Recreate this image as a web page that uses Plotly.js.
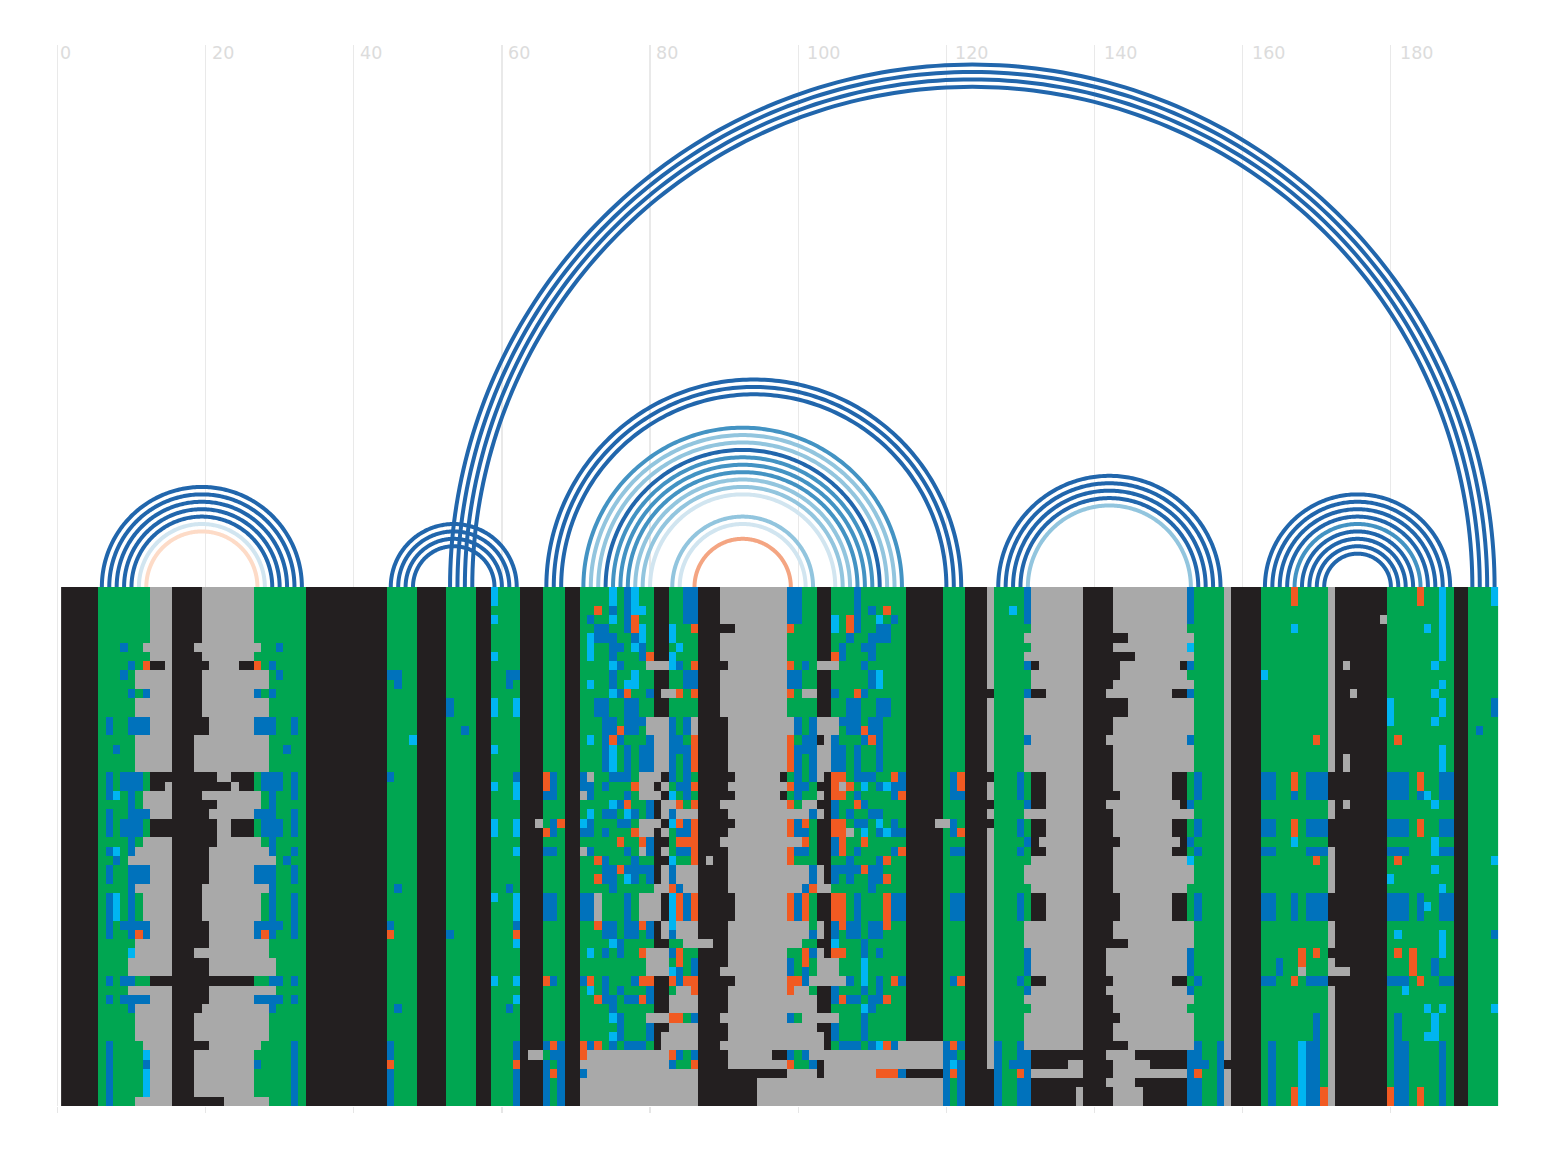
<!DOCTYPE html>
<html>
<head>
<meta charset="utf-8">
<script src="https://cdn.plot.ly/plotly-3.0.1.min.js"></script>
<style>html,body{margin:0;padding:0;background:#fff}</style>
</head>
<body>
<div id="chart" style="width:1552px;height:1156px"></div>
<script>
// ---- tick labels ----
const tickValues = [0,20,40,60,80,100,120,140,160,180];

// ---- cell categories ----
const cellCodes = ["K","A","G","B","C","O"];
const cellColors = ["#231f20","#a9a9a9","#00a651","#0072bc","#00b5f1","#f15a22"];

// ---- alignment rows: each token is "first column + category", run continues to next token ----
const alignmentRows = [
"1K 6G 13A 16K 20A 27G 34K 45G 49K 53G 57K 59C 60G 63K 66G 69K 71G 75C 76G 77B 78C 79G 81K 83G 85B 87K 90A 99B 101G 103K 105G 108B 109G 115K 120G 123K 126A 127G 131B 132A 139K 143A 153B 154G 158A 159K 163G 167O 168G 172A 173K 180G 184O 185G 187C 188G 189K 191G 194C",
"1K 6G 13A 16K 20A 27G 34K 45G 49K 53G 57K 59C 60G 63K 66G 69K 71G 75C 76G 77B 78C 79G 81K 83G 85B 87K 90A 99B 101G 103K 105G 108B 109G 115K 120G 123K 126A 127G 131B 132A 139K 143A 153B 154G 158A 159K 163G 167O 168G 172A 173K 180G 184O 185G 187C 188G 189K 191G 194C",
"1K 6G 13A 16K 20A 27G 34K 45G 49K 53G 57K 59G 63K 66G 69K 71G 73O 74G 75B 76G 77B 78C 80G 81K 83G 85B 87K 90A 99B 101G 103K 105G 108B 109G 110B 111G 112O 113G 115K 120G 123K 126A 127G 129C 130G 131B 132A 139K 143A 153B 154G 158A 159K 163G 172A 173K 180G 187C 188G 189K 191G",
"1K 6G 13A 16K 20A 27G 34K 45G 49K 53G 57K 59C 60G 63K 66G 69K 71G 72B 73G 75C 76G 77B 78O 79G 81K 83G 85B 87K 90A 99B 101G 103K 105C 106G 107O 108B 109G 111C 112G 113B 114G 115K 120G 123K 126A 127G 131B 132A 139K 143A 153B 154G 158A 159K 163G 172A 173K 179A 180G 187C 188G 189K 191G",
"1K 6G 13A 16K 20A 27G 34K 45G 49K 53G 57K 59G 63K 66G 69K 71G 73B 75G 77B 78O 79C 80G 81K 83C 84G 86O 87K 92A 99O 100G 103K 105C 106G 107O 108B 109G 111B 113G 115K 120G 123K 126A 127G 132A 139K 143A 153G 158A 159K 163G 167C 168G 172A 173K 180G 185C 186G 187C 188G 189K 191G",
"1K 6G 13A 16K 20A 27G 34K 45G 49K 53G 57K 59G 63K 66G 69K 71G 72C 73B 76G 78B 79C 80G 81K 83C 84G 87K 90A 99G 103K 105G 107B 108G 110B 113G 115K 120G 123K 126A 127G 131A 139K 145A 154G 158A 159K 163G 172A 173K 180G 187C 188G 189K 191G",
"1K 6G 9B 10G 12A 16K 19A 28G 30B 31G 34K 45G 49K 53G 57K 59G 63K 66G 69K 71G 72C 73G 75B 77G 78C 79B 80G 81K 83G 84C 85G 87K 90A 99G 103K 105G 106B 107G 109B 111G 115K 120G 123K 126A 127G 132A 139K 143A 153C 154G 158A 159K 163G 172A 173K 180G 187C 188G 189K 191G",
"1K 6G 13A 16K 20A 27G 34K 45G 49K 53G 57K 59C 60G 63K 66G 69K 71G 72C 73G 75B 76G 79B 80O 81K 83C 84G 87K 90A 99G 103K 105O 106B 107G 110B 111G 115K 120G 123K 126A 127G 131A 139K 146A 154G 158A 159K 163G 172A 173K 180G 187C 188G 189K 191G",
"1K 6G 10B 11G 12O 13K 15A 16K 21A 25K 27O 28G 29B 30G 34K 45G 49K 53G 57K 59G 63K 66G 69K 71G 75C 76B 77G 80A 83C 84B 85G 86O 87K 91A 99O 100G 101B 102G 103A 106G 109B 110G 115K 120G 123K 126A 127G 131B 132K 133A 139K 144A 152K 153B 154G 158A 159K 163G 172A 173K 174A 175K 180G 186C 187G 189K 191G",
"1K 6G 9B 10G 11A 16K 20A 29G 30B 31G 34K 45B 47G 49K 53G 57K 59G 61B 63K 66G 69K 71G 75B 76G 78C 79G 81K 83G 85B 87K 90A 99B 101G 103K 105G 110B 111C 112G 115K 120G 123K 126A 127G 132A 139K 144A 153G 158A 159K 163C 164G 172A 173K 180G 189K 191G",
"1K 6G 11A 16K 20A 29G 34K 45G 46B 47G 49K 53G 57K 59G 61B 62G 63K 66G 69K 71G 72C 73G 75B 76G 77C 79G 81K 83G 85B 87K 90A 99B 101G 103K 105G 110B 111C 112G 115K 120G 123K 126A 127G 132A 139K 143A 154G 158A 159K 163G 172A 173K 180G 187C 188G 189K 191G",
"1K 6G 10B 11G 12B 13A 16K 20A 27B 28G 29B 30G 34K 45G 49K 53G 57K 59G 63K 66G 69K 71G 75C 76B 77O 78G 80B 81K 82A 84O 85G 86O 87K 90A 99O 100G 101A 103K 105B 106G 108O 109B 110G 115K 120G 123K 127G 131B 132K 134A 139K 142A 151K 153B 154G 158A 159K 163G 172A 173K 175A 176K 180G 186C 187G 189K 191G",
"1K 6G 11A 16K 20A 29G 34K 45G 49K 53B 54G 57K 59C 60G 62C 63K 66G 69K 71G 73B 75G 77B 79G 81K 83G 87K 90A 99G 103K 105G 107B 109G 111B 113G 115K 120G 123K 126A 127G 131A 139K 145A 154G 158A 159K 163G 172A 173K 180C 181G 187C 188G 189K 191G 194B",
"1K 6G 11A 16K 20A 29G 34K 45G 49K 53B 54G 57K 59C 60G 62C 63K 66G 69K 71G 73B 75G 77B 79G 81K 83G 87K 90A 99G 103K 105G 107B 109G 111B 113G 115K 120G 123K 126A 127G 131A 139K 145A 154G 158A 159K 163G 172A 173K 180C 181G 187C 188G 189K 191G 194B",
"1K 6G 7B 8G 10B 13A 16K 21A 27B 30G 32B 33G 34K 45G 49K 53G 57K 59G 63K 66G 69K 71G 74B 76G 77B 80A 83B 84G 85B 86A 87K 91A 100B 101G 102B 103A 106B 109G 110B 112G 115K 120G 123K 126A 127G 131A 139K 143A 154G 158A 159K 163G 172A 173K 180C 181G 186C 187G 189K 191G",
"1K 6G 7B 8G 10B 13A 16K 21A 27B 30G 32B 33G 34K 45G 49K 53G 55B 56G 57K 59G 63K 66G 69K 71G 74B 76O 77B 79G 80A 83B 84G 85B 86A 87K 91A 100B 101G 102B 103A 106G 107B 109O 110B 112G 115K 120G 123K 126A 127G 131A 139K 143A 154G 158A 159K 163G 172A 173K 180G 189K 191G 192B 193G",
"1K 6G 11A 16K 19A 29G 34K 45G 48C 49K 53G 57K 59G 63K 66G 69K 71G 72C 73G 74B 75O 76B 77G 80B 81A 83B 85G 86O 87K 91A 99O 100G 101B 103K 104A 105B 106G 109B 110O 111B 112G 115K 120G 123K 126A 127G 131B 132A 139K 142A 153B 154G 158A 159K 163G 170O 171G 172A 173K 180G 181O 182G 189K 191G",
"1K 6G 8B 9G 11A 16K 19A 29G 31B 32G 34K 45G 49K 53G 57K 59C 60G 63K 66G 69K 71G 74B 75C 76G 77B 78G 79B 81A 83B 86O 87K 91A 99O 100B 103A 105B 107G 108B 109G 111B 112G 115K 120G 123K 126A 127G 131A 139K 143A 154G 158A 159K 163G 172A 173K 180G 187C 188G 189K 191G",
"1K 6G 11A 16K 19A 29G 34K 45G 49K 53G 57K 59G 63K 66G 69K 71G 74B 75C 76G 77B 78G 79B 81A 83B 84G 85B 86O 87K 91A 99O 100B 101G 102B 103A 105B 107G 108B 109G 111B 112G 115K 120G 123K 126A 127G 131A 139K 143A 154G 158A 159K 163G 172A 173K 174A 175K 180G 187C 188G 189K 191G",
"1K 6G 11A 16K 19A 29G 34K 45G 49K 53G 57K 59G 63K 66G 69K 71G 74B 75C 76G 77B 78G 79B 81A 83B 84G 85B 86O 87K 91A 99O 100B 101G 102B 103A 105B 107G 108B 109G 111B 112G 115K 120G 123K 126A 127G 131A 139K 143A 154G 158A 159K 163G 172A 173K 174A 175K 180G 187C 188G 189K 191G",
"1K 6G 7B 8G 9B 12G 13K 22A 24K 27G 28B 31G 32B 33G 34K 45B 46G 49K 53G 57K 59G 62B 63K 66O 67B 68G 69K 71B 72A 73G 75B 78G 79A 82K 83B 84G 85B 86G 87K 92A 98K 99G 100B 101G 102B 103A 104K 105O 107G 108B 111G 113O 114B 115K 120G 121B 122O 123K 127G 130B 131G 132K 134A 139K 143A 151K 153G 154B 155G 158A 159K 163B 165G 167O 168G 169B 172K 180B 183G 184O 185G 187B 189K 191G",
"1K 6G 7B 8G 9B 12G 13K 15A 16K 24A 25K 27G 28B 31G 32B 33G 34K 45G 49K 53G 57K 59C 60G 62C 63K 66O 67B 68G 69K 71B 73G 74B 75G 78O 79A 81K 82A 83G 84B 86O 87K 91A 98A 99O 100B 102G 103K 105O 106A 107O 108G 109C 110G 111B 112C 113B 115K 120G 121B 122O 123K 126A 127G 130B 131G 132K 134A 139K 143A 151K 153G 154B 155G 158A 159K 163B 165G 167O 168G 169B 172K 180B 183G 184O 185G 187B 189K 191G",
"1K 6G 7B 8C 9G 10B 11G 12A 16K 20A 28G 29B 30G 32B 33G 34K 45G 49K 53G 57K 59G 62C 63K 66B 68G 69K 71A 72B 73G 77B 78G 79A 82K 83C 84G 85B 86G 87K 92A 98K 99G 100B 101G 103A 104K 105O 107G 108B 109G 113B 114O 115K 120G 121B 123K 126A 127G 130B 131G 132K 134A 139K 144A 151K 153G 154B 155G 158A 159K 163B 165G 167B 168G 169B 172K 180B 183G 184B 185C 186G 187B 189K 191G",
"1K 6G 10B 11G 12A 16K 22A 28G 29B 30G 34K 45G 49K 53G 57K 59G 63K 66G 69K 71G 75C 76B 77O 78G 80B 81K 82A 84O 85G 86O 87K 90A 98A 99O 100G 101A 103K 105B 106G 108O 109B 110G 115K 120G 123K 127G 131B 132K 134A 139K 142A 152K 153B 154G 158A 159K 163G 172A 173K 174A 175K 180G 186C 187G 189K 191G",
"1K 6G 7B 8G 10B 13A 16K 21A 27B 30G 32B 33G 34K 45G 49K 53G 57K 59G 63K 66G 69K 71G 72C 73G 74B 76G 77C 78B 79G 80B 81K 82A 83B 84A 87K 91A 102B 103A 104K 105B 106G 107B 108G 110B 112G 115K 120G 123K 126A 127G 131A 139K 143A 154G 158A 159K 163G 172A 173K 180G 189K 191G",
"1K 6G 7B 8G 9B 12G 13K 22A 24K 27G 28B 31G 32B 33G 34K 45G 49K 53G 57K 59C 60G 62C 63K 65A 66G 67B 68O 69K 71C 72B 73G 76B 78G 79A 82K 83C 84O 85B 86O 87K 92A 98A 99O 100B 101O 102G 103K 105O 107G 108B 110G 111C 112G 113B 114G 115K 119A 121B 122G 123K 127G 130B 131G 132K 134A 139K 143A 151K 153G 154B 155G 158A 159K 163B 165G 167O 168G 169B 172K 180B 183G 184O 185G 187B 189K 191G",
"1K 6G 7B 8G 9B 12G 13K 22A 24K 27G 28B 31G 32B 33G 34K 45G 49K 53G 57K 59C 60G 62C 63K 66O 67B 68G 69K 71B 73G 74B 75G 78O 79A 81K 82A 83G 84B 86O 87K 91A 98A 99O 100B 102G 103K 105O 107A 108G 109C 110G 111B 112C 113B 115K 120G 121B 122O 123K 126A 127G 130B 131G 132K 134A 139K 143A 151K 153G 154B 155G 158A 159K 163B 165G 167O 168G 169B 172K 180B 183G 184O 185G 187B 189K 191G",
"1K 6G 10B 11G 12A 16K 22A 28G 29B 30G 34K 45G 49K 53G 57K 59G 63K 66G 69K 71G 76O 77G 79O 80B 81K 83G 84O 87K 90A 101O 102G 103K 105B 106O 107G 109O 110G 115K 120G 123K 126A 127G 131B 132K 133A 139K 144A 152K 153B 154G 158A 159K 163G 167C 168G 172K 180G 186C 187G 189K 191G",
"1K 6G 7B 8C 9G 10B 11A 16K 21A 29B 30G 32B 33G 34K 45G 49K 53G 57K 59G 62C 63K 66B 68G 69K 71A 72B 73G 77B 78G 79A 80B 81K 82A 83G 84B 86O 87K 91A 98A 99O 100B 102G 103K 105B 106O 107G 108B 109G 113B 114O 115K 120G 121B 123K 126A 127G 130B 131G 132K 134A 139K 143A 151K 153G 154B 155G 158A 159K 163B 165G 169B 172A 173K 180B 183G 186C 187B 189K 191G",
"1K 6G 8B 9G 10A 16K 21A 30G 31B 32G 34K 45G 49K 53G 57K 59G 63K 66G 69K 71G 73O 74B 75G 78B 79G 81K 83C 84G 86O 87K 88A 89K 91A 98A 99O 100G 103K 105G 107B 108G 111B 112O 113G 115K 120G 123K 126A 127G 132A 139K 143A 153C 154G 158A 159K 163G 170O 171G 172A 173K 180G 181O 182G 189K 191G 194C",
"1K 6G 7B 8G 10B 13A 16K 21A 27B 30G 32B 33G 34K 45G 49K 53G 57K 59G 63K 66G 69K 71G 74B 76O 77B 81K 82A 83B 84A 87K 91A 102B 103A 104K 105B 109O 110B 112G 115K 120G 123K 126A 127G 131A 139K 143A 154G 158A 159K 163G 172A 173K 180G 186C 187G 189K 191G",
"1K 6G 7B 8G 10B 13A 16K 21A 27B 30G 32B 33G 34K 45G 49K 53G 57K 59G 63K 66G 69K 71G 73O 74B 76G 77C 78B 79G 80B 81K 82A 83B 84A 87K 91A 102B 103A 104K 105B 106G 107B 108G 110B 112O 113G 115K 120G 123K 126A 127G 131A 139K 143A 154G 158A 159K 163G 172A 173K 180C 181G 189K 191G",
"1K 6G 10B 11A 16K 20A 29B 30G 34K 45G 46B 47G 49K 53G 57K 59G 61B 62G 63K 66G 69K 71G 75B 76G 81A 83O 84B 85A 87K 91A 101B 102O 103A 105G 110B 111G 115K 120G 123K 126A 127G 132A 139K 143A 153G 158A 159K 163G 172A 173K 180G 187C 188G 189K 191G",
"1K 6G 7B 8C 9G 10B 11G 12A 16K 20A 28G 29B 30G 32B 33G 34K 45G 49K 53G 57K 59C 60G 62C 63K 66B 68G 69K 71B 73A 74G 77B 78G 79A 82K 83C 84O 85B 86O 87K 92A 98A 99O 100B 101O 102G 103K 105O 107G 108B 109G 112O 113B 115K 120G 121B 123K 126A 127G 130B 131G 132K 134A 139K 144A 151K 153G 154B 155G 158A 159K 163B 165G 167B 168G 169B 172K 180B 183G 184B 185G 187B 189K 191G",
"1K 6G 7B 8C 9G 10B 11G 12A 16K 20A 28G 29B 30G 32B 33G 34K 45G 49K 53G 57K 59G 62C 63K 66B 68G 69K 71B 73A 74G 77B 78G 79A 82K 83C 84O 85B 86O 87K 92A 98A 99O 100B 101O 102G 103K 105O 107G 108B 109G 112O 113B 115K 120G 121B 123K 126A 127G 130B 131G 132K 134A 139K 144A 151K 153G 154B 155G 158A 159K 163B 165G 167B 168G 169B 172K 180B 183G 184B 185C 186G 187B 189K 191G",
"1K 6G 7B 8C 9G 10B 11G 12A 16K 20A 28G 29B 30G 32B 33G 34K 45G 49K 53G 57K 59G 62C 63K 66B 68G 69K 71B 73A 74G 77B 78G 79A 82K 83C 84O 85B 86O 87K 92A 98A 99O 100B 101O 102G 103K 105O 107G 108B 109G 112O 113B 115K 120G 121B 123K 126A 127G 130B 131G 132K 134A 139K 144A 151K 153G 154B 155G 158A 159K 163B 165G 167B 168G 169B 172K 180B 183G 184B 185G 187B 189K 191G",
"1K 6G 7B 8G 9B 13A 16K 21A 27B 31G 32B 33G 34K 45B 46G 49K 53G 57K 59G 62B 63K 66G 69K 71G 73O 74B 76G 77B 79O 80B 81K 82A 83C 84A 87K 91A 102G 103A 104K 105B 106O 107B 109G 110B 112O 113G 115K 120G 123K 126A 127G 131A 139K 143A 154G 158A 159K 163G 172A 173K 180G 189K 191G",
"1K 6G 7B 8G 10B 11O 12B 13A 16K 21A 27B 28O 29B 30G 32B 33G 34K 45O 46G 49K 53B 54G 57K 59G 62O 63K 66G 69K 71G 74B 76G 77B 79G 80B 81K 82A 83B 84A 87K 91A 102B 103A 104K 105B 106G 107B 109G 110B 112G 115K 120G 123K 126A 127G 131A 139K 143A 154G 158A 159K 163G 172A 173K 180G 181C 182G 187C 188G 189K 191G 194B",
"1K 6G 11A 16K 21A 29G 34K 45G 49K 53G 57K 59G 62C 63K 66G 69K 71G 75C 76B 77G 81K 83G 85A 89K 91A 101G 103K 105C 106G 109B 110G 115K 120G 123K 126A 127G 131A 139K 145A 154G 158A 159K 163G 172A 173K 180G 187C 188G 189K 191G",
"1K 6G 10C 11A 16K 19A 29G 34K 45G 49K 53G 57K 59G 63K 66G 69K 71G 72C 73G 74B 75G 76B 77G 79O 80A 83B 84O 85G 87K 91A 99G 101O 102B 103A 104K 105O 107G 109B 110G 111B 112G 115K 120G 123K 126A 127G 131B 132A 139K 142A 153B 154G 158A 159K 163G 168O 169G 170O 171G 172K 180G 181O 182G 183O 184G 187C 188G 189K 191G",
"1K 6G 10A 16K 21A 30G 34K 45G 49K 53G 57K 59G 63K 66G 69K 71G 80A 83G 84O 85G 86B 87K 91A 99B 100G 101O 102G 103A 106G 109C 110G 115K 120G 123K 126A 127G 131B 132A 139K 142A 153B 154G 158A 159K 163G 165B 166G 168O 169G 172A 173K 180G 183O 184G 186B 187G 189K 191G",
"1K 6G 10A 16K 21A 30G 34K 45G 49K 53G 57K 59G 63K 66G 69K 71G 80A 83C 84B 85G 86B 87K 90A 99B 100G 101B 102G 103A 106G 109C 110G 115K 120G 123K 126A 127G 131B 132A 139K 142A 153B 154G 158A 159K 163G 165B 166G 168A 169G 172A 175K 180G 183O 184G 186B 187G 189K 191G",
"1K 6G 7B 8G 9B 11G 13K 27G 29B 31G 32B 33G 34K 45G 49K 53G 57K 59C 60G 62C 63K 66O 67B 68G 69K 71B 72O 73G 74B 75G 78B 79O 81K 83O 84B 85O 87K 92A 99O 101B 102A 107B 108G 109C 110G 111B 112G 113O 114B 115K 120G 121B 122O 123K 126A 127G 130B 131G 132K 134A 139K 143A 151K 153G 154B 155G 158A 159K 163B 165G 167O 168G 169B 172K 180B 183G 184O 185G 187B 189K 191G",
"1K 6G 10A 16K 21A 30G 34K 45G 49K 53G 57K 59G 63K 66G 69K 71G 72C 73G 74B 75G 76B 77G 80B 81K 83G 84A 86O 87K 91A 99O 100A 102G 103K 105B 106G 109B 110G 111B 112G 115K 120G 123K 126A 127G 131B 132A 139K 142A 153B 154G 158A 159K 163G 172A 173K 180G 182C 183G 189K 191G",
"1K 6G 7B 8G 9B 13A 16K 21A 27B 31G 32B 33G 34K 45G 49K 53G 57K 59G 62C 63K 66G 69K 71G 73O 74B 76G 77B 79O 80B 81K 83A 87K 91A 103K 105B 106O 107B 109G 110B 112O 113G 115K 120G 123K 126A 127G 131A 139K 143A 154G 158A 159K 163G 172A 173K 180G 189K 191G",
"1K 6G 10B 11A 16K 20A 29B 30G 34K 45G 46B 47G 49K 53G 57K 59G 61B 62G 63K 66G 69K 71G 75B 76G 81K 83A 87K 91A 103K 105G 109C 110B 111G 115K 120G 123K 126A 127G 132A 139K 143A 153G 158A 159K 163G 172A 173K 180G 185C 186G 187C 188G 189K 191G 194C",
"1K 6G 11A 16K 19A 29G 34K 45G 49K 53G 57K 59G 63K 66G 69K 71G 75C 76B 77G 80A 83O 85G 86B 87K 90A 99B 100G 101A 106G 109B 110G 115K 120G 123K 126A 127G 131A 139K 144A 154G 158A 159K 163G 170B 171G 172A 173K 180G 181B 182G 186C 187G 189K 191G",
"1K 6G 11A 16K 19A 29G 34K 45G 49K 53G 57K 59G 63K 66G 69K 71G 76B 77G 80B 81K 83A 87K 91A 103K 105B 106G 109B 110G 115K 120G 123K 126A 127G 131A 139K 143A 154G 158A 159K 163G 170B 171G 172A 173K 180G 181B 182G 186C 187G 189K 191G",
"1K 6G 11A 16K 19A 29G 34K 45G 49K 53G 57K 59G 63K 66G 69K 71G 75C 76B 77G 80B 81K 82A 87K 91A 104K 105B 106G 109B 110G 115K 120G 123K 126A 127G 131A 139K 143A 154G 158A 159K 163G 170B 171G 172A 173K 180G 181B 182G 185C 187G 189K 191G",
"1K 6G 7B 8G 12A 16K 21A 28G 32B 33G 34K 45B 46G 49K 53G 57K 59G 62B 63K 66B 67O 68B 69K 71O 72B 73O 74G 75B 76G 77B 80G 81K 82A 87K 90A 104K 105G 106B 109G 110B 111C 112O 113B 114A 120B 121O 122B 123K 126A 127B 128G 130B 131A 139K 145A 154B 155G 157B 158A 159K 163G 164B 165G 168C 169B 171G 172A 173K 180G 181B 183G 187B 188G 189K 191G",
"1K 6G 7B 8G 12C 13A 16K 19A 27G 32B 33G 34K 45B 46G 49K 53G 57K 59G 62B 63K 64A 66G 67B 69K 71O 72A 83O 84B 85G 86B 87K 91A 97K 99B 100G 101B 102A 120B 122G 123K 126A 127B 128G 130B 132K 142A 146K 153B 155G 157B 158A 159K 163G 164B 165G 168C 169B 171G 172A 173K 180G 181B 183G 187B 188G 189K 191G",
"1K 6G 7B 8G 12B 13A 16K 19A 27B 28G 32B 33G 34K 45O 46G 49K 53G 57K 59G 62O 63K 66B 67G 68B 69K 71A 83B 84G 86O 87K 91A 99O 100G 102B 103K 104A 120B 121C 122B 123K 126A 127B 128G 129B 132K 137A 139K 143A 148K 153B 156G 157B 158K 163G 164B 165G 168C 169B 171G 172A 173K 180G 181B 183G 187B 188G 189K 191G",
"1K 6G 7B 8G 12C 13A 16K 19A 27G 32B 33G 34K 45B 46G 49K 53G 57K 59G 62B 63K 66B 67O 68B 69K 71B 72A 87K 99A 103K 104A 111O 114B 115K 120B 121O 122B 123K 127B 128G 130O 131B 132A 139K 143A 153B 154O 155G 157B 158A 159K 163G 164B 165G 168C 169B 171G 172A 173K 180G 181B 183G 187B 188G 189K 191G",
"1K 6G 7B 8G 12C 13A 16K 19A 27G 32B 33G 34K 45B 46G 49K 53G 57K 59G 62B 63K 66B 67G 68B 69K 71A 87K 95A 120B 121G 122B 123K 127B 128G 130B 132K 142A 146K 153B 155G 157B 158A 159K 163G 164B 165G 168C 169B 171G 172A 173K 180G 181B 183G 187B 188G 189K 191G",
"1K 6G 7B 8G 12C 13A 16K 19A 27G 32B 33G 34K 45B 46G 49K 53G 57K 59G 62B 63K 66B 67G 68B 69K 71A 87K 95A 120B 121G 122B 123K 127B 128G 130B 132K 138A 139K 143A 147K 153B 155G 157B 158A 159K 163G 164B 165G 167O 168C 169B 171O 172A 173K 180O 181B 183G 184O 185G 187B 188G 189K 191G",
"1K 6G 7B 8G 11A 16K 23A 29G 32B 33G 34K 45B 46G 49K 53G 57K 59G 62B 63K 66B 67G 68B 69K 71A 87K 95A 120B 121G 122B 123K 127B 128G 130B 132K 138A 139K 143A 147K 153B 155G 157B 158A 159K 163G 164B 165G 167O 168C 169B 171O 172A 173K 180O 181B 183G 184O 185G 187B 188G 189K 191G"
];

// ---- base pairs: opening column, closing column, colour ----
const arcOpen = [6,7,8,9,10,11,12, 45,46,47,48, 53,54,55,56, 66,67,68,
  71,72,73,74,75,76,77,78,79,80, 83,84,86, 127,128,129,130,131,
  163,164,165,166,167,168,169,170,171];
const arcClose = [33,32,31,30,29,28,27, 62,61,60,59, 194,193,192,191, 122,121,120,
  114,113,112,111,110,109,108,107,106,105, 102,101,99, 157,156,155,154,153,
  188,187,186,185,184,183,182,181,180];
const arcColor = ["#2166ac","#2166ac","#2166ac","#2166ac","#2166ac","#d1e5f0","#fddbc7",
  "#2166ac","#2166ac","#2166ac","#2166ac",
  "#2166ac","#2166ac","#2166ac","#2166ac",
  "#2166ac","#2166ac","#2166ac",
  "#4393c3","#92c5de","#92c5de","#2166ac","#4393c3","#4393c3","#4393c3","#92c5de","#92c5de","#d1e5f0",
  "#92c5de","#d1e5f0","#f4a582",
  "#2166ac","#2166ac","#2166ac","#2166ac","#92c5de",
  "#2166ac","#2166ac","#2166ac","#2166ac","#4393c3","#2166ac","#2166ac","#2166ac","#2166ac"];

// ---- build heatmap ----
const colCount = 194;
const z = alignmentRows.map(function (row) {
  const cells = new Array(colCount).fill(0);
  const tokens = row.split(" ");
  tokens.forEach(function (t, i) {
    const start = parseInt(t, 10);
    const code = cellCodes.indexOf(t[t.length - 1]);
    const end = i + 1 < tokens.length ? parseInt(tokens[i + 1], 10) : colCount + 1;
    for (let c = start; c < end; c++) cells[c - 1] = code;
  });
  return cells;
});
const colscale = [];
cellColors.forEach(function (c, i) {
  colscale.push([i / cellColors.length, c]);
  colscale.push([(i + 1) / cellColors.length, c]);
});
const colIndex = Array.from({length: colCount}, function (_, i) { return i + 1; });
const rowIndex = alignmentRows.map(function (_, i) { return i + 1; });

const traces = [{
  type: "heatmap", x: colIndex, y: rowIndex, z: z, xaxis: "x", yaxis: "y2",
  zmin: 0, zmax: cellColors.length, colorscale: colscale, showscale: false,
  hoverinfo: "skip", xgap: 0, ygap: 0
}];

arcOpen.forEach(function (a, i) {
  const b = arcClose[i], c = (a + b) / 2, r = (b - a) / 2, xs = [], ys = [];
  for (let k = 0; k <= 180; k++) {
    const t = Math.PI * k / 180;
    xs.push(c - r * Math.cos(t));
    ys.push(r * Math.sin(t));
  }
  traces.push({type: "scatter", mode: "lines", x: xs, y: ys, xaxis: "x", yaxis: "y",
    line: {color: arcColor[i], width: 4, shape: "linear", simplify: false}, hoverinfo: "skip", showlegend: false});
});

// pixel frame
const unitPx = 7.41, pageW = 1552, pageH = 1156;
const plotTop = 45, basePx = 587, hmBottomPx = 1106, plotBottom = 1112;
const plotLeft = 57.5 - unitPx, plotW = 196 * unitPx;
const plotH = plotBottom - plotTop;

const tickNotes = tickValues.map(function (v) {
  return {x: v, xref: "x", y: 1, yref: "paper", yanchor: "top", xanchor: "left",
    xshift: String(v).length * 3 - 2, yshift: 4, text: String(v), showarrow: false,
    font: {family: "DejaVu Sans", size: 17.5, color: "#dcdcdc"}};
});

const layout = {
  width: pageW, height: pageH, paper_bgcolor: "#ffffff", plot_bgcolor: "#ffffff",
  margin: {l: plotLeft, r: pageW - plotLeft - plotW, t: plotTop, b: pageH - plotBottom, pad: 0, autoexpand: false},
  showlegend: false, annotations: tickNotes,
  xaxis: {range: [-1, 195], tickvals: tickValues, showticklabels: false, ticks: "outside",
    ticklen: 6, tickwidth: 1.2, tickcolor: "#e6e6e6", showgrid: true, gridcolor: "#e9e9e9", gridwidth: 1.2,
    zeroline: false, showline: false, anchor: "y2"},
  yaxis: {domain: [(plotBottom - basePx) / plotH, 1], range: [0, (basePx - plotTop) / unitPx],
    visible: false, fixedrange: true},
  yaxis2: {domain: [(plotBottom - hmBottomPx) / plotH, (plotBottom - basePx) / plotH], range: [56.5, 0.5],
    visible: false, fixedrange: true}
};

Plotly.newPlot("chart", traces, layout, {displayModeBar: false, staticPlot: true});
</script>
</body>
</html>
